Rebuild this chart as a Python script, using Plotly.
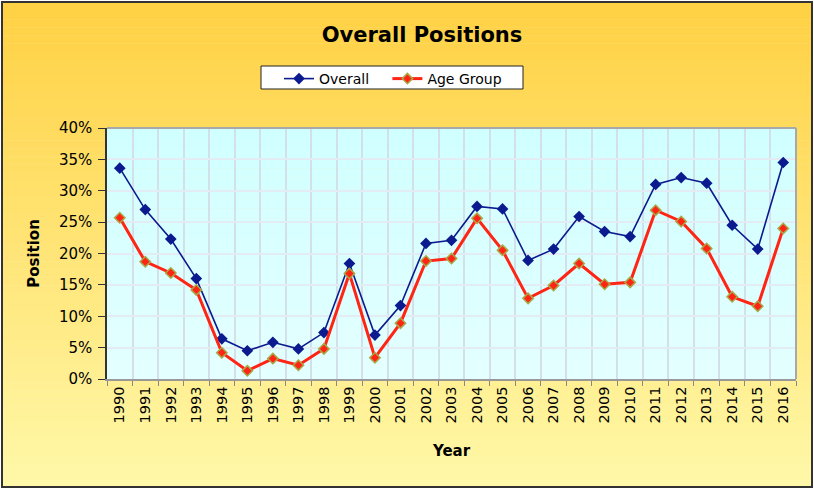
import plotly.graph_objects as go

years = [str(y) for y in range(1990, 2017)]
overall = [0.336, 0.270, 0.223, 0.160, 0.064, 0.045, 0.0585, 0.048, 0.074, 0.184,
           0.070, 0.117, 0.216, 0.221, 0.275, 0.271, 0.189, 0.207, 0.259,
           0.235, 0.227, 0.310, 0.321, 0.312, 0.245, 0.207, 0.345]
age_group = [0.257, 0.187, 0.169, 0.142, 0.042, 0.013, 0.0325, 0.022, 0.048, 0.168,
             0.034, 0.089, 0.188, 0.192, 0.256, 0.205, 0.1285, 0.149, 0.184,
             0.151, 0.154, 0.269, 0.251, 0.208, 0.131, 0.116, 0.240]
y_ticks = [0, 0.05, 0.10, 0.15, 0.20, 0.25, 0.30, 0.35, 0.40]

W, H = 814, 489
L, R, T, B = 107, 796, 128, 379

def px(x):
    return (x - L) / (R - L)

def py(y):
    return (B - y) / (B - T)

def lerp(c1, c2, t):
    return "rgb(%d,%d,%d)" % tuple(round(a + (b - a) * t) for a, b in zip(c1, c2))

shapes = []
# chart background gradient
n = 60
top, bot = 3, 487
for i in range(n):
    y0 = top + (bot - top) * i / n
    y1 = top + (bot - top) * (i + 1) / n + 0.5
    shapes.append(dict(type="rect", xref="paper", yref="paper", layer="below",
                       x0=px(3), x1=px(812), y0=py(y0), y1=py(y1),
                       fillcolor=lerp((255, 209, 68), (255, 248, 168), i / (n - 1)),
                       line=dict(width=0)))
# plot area gradient
m = 25
for i in range(m):
    y0 = T + (B - T) * i / m
    y1 = T + (B - T) * (i + 1) / m + 0.5
    shapes.append(dict(type="rect", xref="paper", yref="paper", layer="below",
                       x0=0, x1=1, y0=py(y0), y1=py(min(y1, B)),
                       fillcolor=lerp((208, 255, 255), (228, 255, 255), i / (m - 1)),
                       line=dict(width=0)))
# chart outer border
shapes.append(dict(type="rect", xref="paper", yref="paper", layer="above",
                   x0=px(2), x1=px(812), y0=py(2), y1=py(487),
                   line=dict(color="#333333", width=2), fillcolor="rgba(0,0,0,0)"))
# plot area gray border top and right
shapes.append(dict(type="line", xref="paper", yref="paper", layer="above",
                   x0=0, x1=1, y0=1, y1=1, line=dict(color="#A8A8A8", width=2)))
shapes.append(dict(type="line", xref="paper", yref="paper", layer="above",
                   x0=1, x1=1, y0=0, y1=1, line=dict(color="#A8A8A8", width=2)))
# legend box
shapes.append(dict(type="rect", xref="paper", yref="paper", layer="above",
                   x0=px(261), x1=px(523), y0=py(66), y1=py(89),
                   line=dict(color="#222222", width=1), fillcolor="white"))

fig = go.Figure()
fig.add_trace(go.Scatter(
    x=years, y=overall, name="Overall\u00a0\u00a0\u00a0", mode="lines+markers",
    line=dict(color="#0B1A8E", width=1.6),
    marker=dict(symbol="diamond", size=9, color="#0B1A8E"),
))
fig.add_trace(go.Scatter(
    x=years, y=age_group, name="Age Group", mode="lines+markers",
    line=dict(color="#FF2414", width=3),
    marker=dict(symbol="diamond", size=8, color="#FF2414",
                line=dict(color="#A8A848", width=1.5)),
))

font = "DejaVu Sans, Verdana, sans-serif"
fig.update_layout(
    width=W, height=H,
    margin=dict(l=L, r=W - R, t=T, b=H - B),
    paper_bgcolor="white", plot_bgcolor="rgba(0,0,0,0)",
    font=dict(family=font, size=14, color="black"),
    title=dict(text="<b>Overall Positions</b>", font=dict(size=21, family=font, color="black"),
               x=422 / W, xref="container", xanchor="center",
               y=1 - 35 / H, yref="container", yanchor="middle"),
    legend=dict(orientation="h", xref="container", yref="container",
                x=279 / W, y=1 - 63 / H, xanchor="left", yanchor="top",
                bgcolor="rgba(0,0,0,0)", borderwidth=0,
                font=dict(size=14, family=font), itemwidth=30),
    shapes=shapes,
    showlegend=True,
)
fig.update_xaxes(
    type="category", range=[-0.5, len(years) - 0.5],
    tickson="boundaries", ticks="outside", ticklen=5,
    tickcolor="#888888", tickangle=-90, showgrid=True, gridcolor="#D3E0EA",
    gridwidth=1.5, showline=True, linecolor="#999999", linewidth=1.5,
    tickfont=dict(size=14.5, family=font),
    title=dict(text="<b>Year</b>", font=dict(size=15, family=font), standoff=23),
)
fig.update_yaxes(
    range=[0, 0.40], tickvals=y_ticks, tickformat=".0%", ticks="outside",
    ticklen=7, tickcolor="#333333", showgrid=True, gridcolor="#E3ECF2", gridwidth=1.5,
    showline=True, linecolor="#333333", linewidth=1.5, zeroline=False,
    ticklabelstandoff=3,
    tickfont=dict(size=15, family=font),
    title=dict(text="<b>Position</b>", font=dict(size=15, family=font), standoff=16),
)

fig.write_html("out.html", post_script="document.body.style.margin='0';",
               config={"displayModeBar": False})
